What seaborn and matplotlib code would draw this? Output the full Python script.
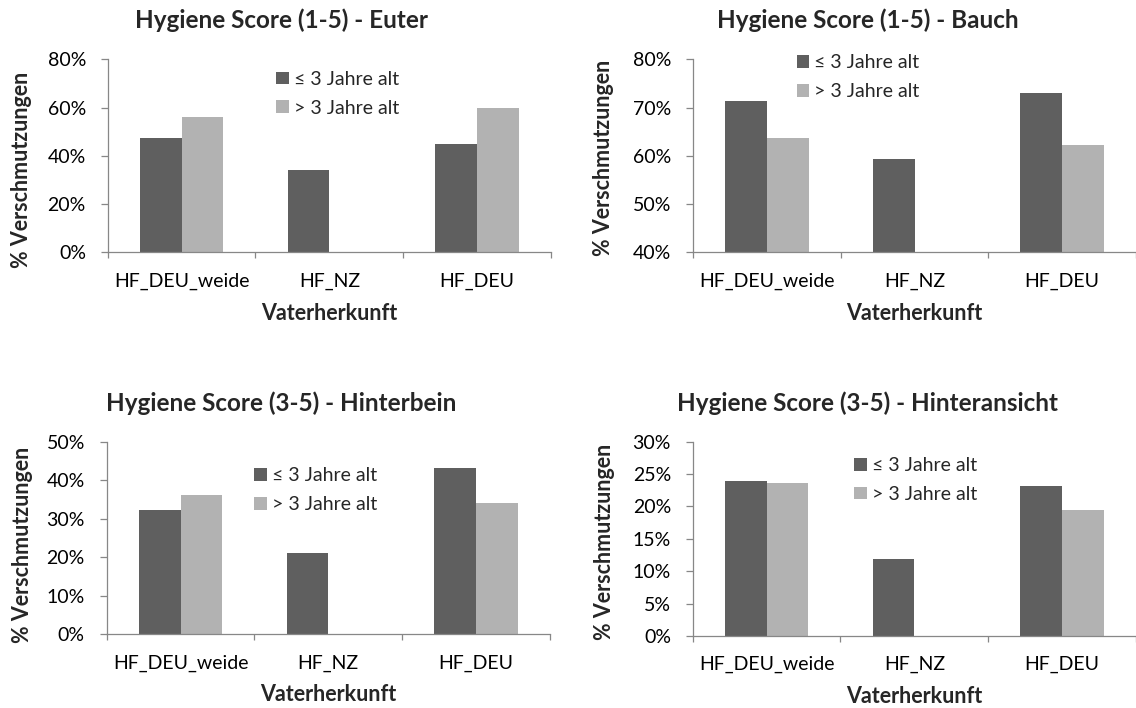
import numpy as np
import pandas as pd
import seaborn as sns
import matplotlib.pyplot as plt
from matplotlib.ticker import PercentFormatter, MultipleLocator, FixedLocator

# Daten (in %)
herkunft = ["HF_DEU_weide", "HF_NZ", "HF_DEU"]
alter = ["≤ 3 Jahre alt", "> 3 Jahre alt"]

euter_jung = [47.5, 34.1, 44.8]
euter_alt = [56.2, np.nan, 59.7]
bauch_jung = [71.4, 59.3, 73.0]
bauch_alt = [63.6, np.nan, 62.2]
hinterbein_jung = [32.3, 21.1, 43.2]
hinterbein_alt = [36.2, np.nan, 34.1]
hinteransicht_jung = [24.0, 11.9, 23.2]
hinteransicht_alt = [23.7, np.nan, 19.4]

titel = ["Hygiene Score (1-5) - Euter", "Hygiene Score (1-5) - Bauch",
         "Hygiene Score (3-5) - Hinterbein", "Hygiene Score (3-5) - Hinteransicht"]
y_bereich = [(0, 80, 20), (40, 80, 10), (0, 50, 10), (0, 30, 5)]

serien = [(euter_jung, euter_alt), (bauch_jung, bauch_alt),
          (hinterbein_jung, hinterbein_alt), (hinteransicht_jung, hinteransicht_alt)]

# Layout
achsen_pos = [[0.0948, 0.6437, 0.3902, 0.2725], [0.6103, 0.6437, 0.3895, 0.2725],
              [0.0939, 0.1041, 0.3902, 0.2720], [0.6098, 0.1017, 0.3902, 0.2744]]
titel_pos = [(0.2474, 1 - 20.7 / 708), (0.764, 1 - 20.7 / 708),
             (0.2474, 1 - 403 / 708), (0.764, 1 - 403 / 708)]
legende_pos = [(0.380, 0.822), (0.234, 0.907), (0.333, 0.748), (0.3645, 0.803)]
ylabel_pos = [(-0.194, 0.426), (-0.202, 0.491), (-0.190, 0.464), (-0.200, 0.485)]
xlabel_y = [-0.316, -0.316, -0.315, -0.312]

dunkel = "#5f5f5f"
hell = "#b2b2b2"
achsfarbe = "#878787"

sns.set_style("white")
plt.rcParams["font.family"] = ["Lato", "DejaVu Sans"]

fig = plt.figure(figsize=(11.36, 7.08), dpi=100)

for i in range(4):
    jung, alt = serien[i]
    df = pd.DataFrame({
        "Vaterherkunft": herkunft * 2,
        "Wert": list(jung) + list(alt),
        "Alter": [alter[0]] * 3 + [alter[1]] * 3,
    })
    ax = fig.add_axes(achsen_pos[i])
    sns.barplot(data=df, x="Vaterherkunft", y="Wert", hue="Alter",
                order=herkunft, hue_order=alter, palette=[dunkel, hell],
                width=0.565, saturation=1, linewidth=0, ax=ax)

    lo, hi, step = y_bereich[i]
    ax.set_ylim(lo, hi)
    ax.set_xlim(-0.5, 2.5)
    ax.yaxis.set_major_locator(MultipleLocator(step))
    ax.yaxis.set_major_formatter(PercentFormatter(100, decimals=0))
    ax.xaxis.set_minor_locator(FixedLocator([-0.5, 0.5, 1.5, 2.5]))

    sns.despine(ax=ax)
    for s in ["left", "bottom"]:
        ax.spines[s].set_color(achsfarbe)
        ax.spines[s].set_linewidth(0.9)

    ax.tick_params(axis="x", which="major", bottom=True, length=0, pad=14.5,
                   labelsize=14, labelcolor="black")
    ax.tick_params(axis="x", which="minor", bottom=True, length=4.5, width=0.9,
                   color=achsfarbe, direction="out")
    ax.tick_params(axis="y", which="major", left=True, length=4.7, width=0.9,
                   color=achsfarbe, direction="out", pad=11, labelsize=14,
                   labelcolor="black")

    ax.set_xlabel("Vaterherkunft", fontsize=15.5, fontweight="bold", va="center")
    ax.xaxis.set_label_coords(0.5, xlabel_y[i])
    ax.set_ylabel("% Verschmutzungen", fontsize=15.5, fontweight="bold",
                  va="center", ha="center")
    ax.yaxis.set_label_coords(*ylabel_pos[i])

    handles, labels = ax.get_legend_handles_labels()
    ax.legend(handles, labels, loc="center left", bbox_to_anchor=legende_pos[i],
              frameon=False, borderpad=0, borderaxespad=0, handlelength=0.65,
              handleheight=0.65, handletextpad=0.25, labelspacing=0.6, fontsize=14)

    fig.text(titel_pos[i][0], titel_pos[i][1], titel[i], fontsize=17.5,
             fontweight="bold", ha="center", va="center")

fig.savefig("out.png", dpi=100)
